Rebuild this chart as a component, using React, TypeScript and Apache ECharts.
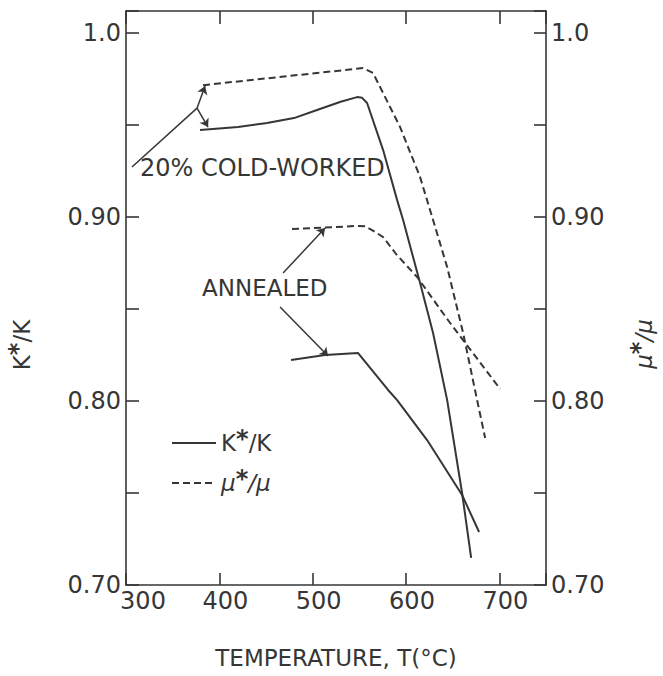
import React, { useEffect, useRef } from "react";
import * as echarts from "echarts";

// Temperature (°C) and ratio readings
const coldMuT = [382.5, 543.3, 554.0, 564.7, 593.7, 615.1, 629.0, 644.1, 661.2, 676.2, 684.8];
const coldMuV = [0.9717, 0.9804, 0.981, 0.9783, 0.9489, 0.9217, 0.8984, 0.8728, 0.837, 0.8005, 0.7799];

const coldKT = [379.3, 420, 451.1, 480, 504.7, 530, 547.6, 553, 558.3, 575.5, 590.5, 596.9, 615.1, 629.0, 644.1, 660.1, 669.8];
const coldKV = [0.9473, 0.949, 0.9511, 0.9538, 0.9582, 0.9627, 0.9652, 0.9648, 0.962, 0.9364, 0.9092, 0.8984, 0.8641, 0.837, 0.8005, 0.75, 0.7147];

const annMuT = [477.9, 521.9, 548, 556, 565, 575.5, 590, 611.9, 647.3, 700.9];
const annMuV = [0.8935, 0.8945, 0.8952, 0.895, 0.8925, 0.8891, 0.8795, 0.8674, 0.8424, 0.8065];

const annKT = [476.8, 513.3, 548.7, 580.8, 590.5, 622.6, 660.1, 678.3];
const annKV = [0.8223, 0.825, 0.8261, 0.806, 0.8005, 0.7788, 0.7489, 0.7288];

// annotation leader lines (data coordinates)
const leaderLines = [[[306.4, 0.9272], [376.1, 0.9592]]];
const arrowLines = [
  [[376.1, 0.9592], [384.7, 0.9712]],
  [[376.1, 0.9592], [387.9, 0.9489]],
  [[468.3, 0.8696], [513.3, 0.894]],
  [[465.1, 0.8511], [516.5, 0.8245]],
];

const xTickValues = [300, 400, 500, 600, 700];
const yTickLabels = ["0.70", "0.80", "0.90", "1.0"];

const zip = (a: number[], b: number[]) => a.map((v, i) => [v, b[i]]);

const INK = "#363636";
const FONT = "DejaVu Sans";

export default function App() {
  const ref = useRef<HTMLDivElement>(null);
  useEffect(() => {
    if (!ref.current) return;
    const chart = echarts.init(ref.current, undefined, { renderer: "svg" });

    const yFmt = (v: number) => {
      const r = Math.round(v * 100);
      if (Math.abs(v * 100 - r) > 0.01 || r % 10 !== 0) return "";
      const s = r === 100 ? "1.0" : (r / 100).toFixed(2);
      return yTickLabels.includes(s) ? s : "";
    };
    const xFmt = (v: number) => {
      const r = Math.round(v);
      if (!xTickValues.includes(r)) return "";
      return r === 300 ? "{f|300}" : "{n|" + r + "}";
    };

    const axisCommon = {
      axisLine: { show: true, onZero: false, lineStyle: { color: INK, width: 1.6 } },
      splitLine: { show: false },
    };

    const textRich = {
      a: { fontFamily: FONT, fontSize: 23, color: INK },
      m: { fontFamily: FONT, fontSize: 23, color: INK, fontStyle: "italic" },
      s: { fontFamily: FONT, fontSize: 24, color: INK, fontWeight: "bold", padding: [0, 0, 8, 0] },
    };

    const lineSeries = (name: string, yIdx: number, t: number[], v: number[], dashed: boolean) => ({
      name,
      type: "line",
      xAxisIndex: 0,
      yAxisIndex: yIdx,
      data: zip(t, v),
      symbol: "none",
      showSymbol: false,
      smooth: false,
      lineStyle: { color: INK, width: 2, type: dashed ? [7, 4] : "solid" },
      itemStyle: { color: INK },
    });

    chart.setOption({
      animation: false,
      backgroundColor: "#ffffff",
      grid: { left: 126, right: 117, top: 11, bottom: 91, containLabel: false },
      xAxis: [
        {
          type: "value",
          min: 300,
          max: 750,
          interval: 100,
          position: "bottom",
          ...axisCommon,
          axisTick: { show: true, inside: true, length: 12, lineStyle: { color: INK, width: 1.6 } },
          axisLabel: {
            show: true,
            margin: 4,
            formatter: xFmt,
            rich: {
              n: { fontFamily: FONT, fontSize: 24, color: INK, padding: [0, 0, 0, 12] },
              f: { fontFamily: FONT, fontSize: 24, color: INK, padding: [0, 0, 0, 34] },
            },
          },
        },
        {
          type: "value",
          min: 300,
          max: 750,
          interval: 100,
          position: "top",
          ...axisCommon,
          axisTick: { show: true, inside: true, length: 13, lineStyle: { color: INK, width: 1.6 } },
          axisLabel: { show: false },
        },
      ],
      yAxis: [
        {
          type: "value",
          min: 0.7,
          max: 1.012,
          interval: 0.05,
          position: "left",
          ...axisCommon,
          axisTick: { show: true, inside: true, length: 13, lineStyle: { color: INK, width: 1.6 } },
          axisLabel: { show: true, margin: 5, formatter: yFmt, fontFamily: FONT, fontSize: 24, color: INK },
        },
        {
          type: "value",
          min: 0.7,
          max: 1.012,
          interval: 0.05,
          position: "right",
          ...axisCommon,
          axisTick: { show: true, inside: true, length: 12, lineStyle: { color: INK, width: 1.6 } },
          axisLabel: { show: true, margin: 5, formatter: yFmt, fontFamily: FONT, fontSize: 24, color: INK },
        },
      ],
      legend: {
        show: true,
        data: ["K*/K", "μ*/μ"],
        orient: "vertical",
        left: 166,
        top: 422,
        itemWidth: 44,
        itemHeight: 14,
        itemGap: 11,
        selectedMode: false,
        itemStyle: { opacity: 0 },
        formatter: (name: string) => (name === "K*/K" ? "{a|K}{s|*}{a|/K}" : "{m|μ}{s|*}{m|/μ}"),
        textStyle: { color: INK, fontFamily: FONT, fontSize: 22, lineHeight: 26, rich: textRich },
      },
      series: [
        lineSeries("K*/K", 0, coldKT, coldKV, false),
        lineSeries("K*/K", 0, annKT, annKV, false),
        lineSeries("μ*/μ", 1, coldMuT, coldMuV, true),
        lineSeries("μ*/μ", 1, annMuT, annMuV, true),
        {
          name: "leaders",
          type: "lines",
          coordinateSystem: "cartesian2d",
          xAxisIndex: 0,
          yAxisIndex: 0,
          symbol: ["none", "none"],
          lineStyle: { color: INK, width: 1.5, opacity: 1 },
          data: leaderLines.map((c) => ({ coords: c })),
        },
        {
          name: "arrows",
          type: "lines",
          coordinateSystem: "cartesian2d",
          xAxisIndex: 0,
          yAxisIndex: 0,
          symbol: ["none", "arrow"],
          symbolSize: 8,
          lineStyle: { color: INK, width: 1.5, opacity: 1 },
          data: arrowLines.map((c) => ({ coords: c })),
        },
      ],
      graphic: [
        {
          type: "text",
          x: 140,
          y: 168,
          style: { text: "20% COLD-WORKED", fontFamily: FONT, fontSize: 24, fill: INK, verticalAlign: "middle", align: "left" },
        },
        {
          type: "text",
          x: 202,
          y: 288,
          style: { text: "ANNEALED", fontFamily: FONT, fontSize: 23, fill: INK, verticalAlign: "middle", align: "left" },
        },
        {
          type: "text",
          x: 336,
          y: 658,
          style: { text: "TEMPERATURE, T(°C)", fontFamily: FONT, fontSize: 23, fill: INK, verticalAlign: "middle", align: "center" },
        },
        {
          type: "text",
          x: 22,
          y: 345,
          rotation: Math.PI / 2,
          style: { text: "{a|K}{s|*}{a|/K}", rich: textRich, fill: INK, align: "center", verticalAlign: "middle" },
        },
        {
          type: "text",
          x: 644,
          y: 344,
          rotation: Math.PI / 2,
          style: { text: "{m|μ}{s|*}{m|/μ}", rich: textRich, fill: INK, align: "center", verticalAlign: "middle" },
        },
      ],
    });
    return () => chart.dispose();
  }, []);
  return (
    <div
      ref={ref}
      style={{ position: "absolute", left: 0, top: 0, width: 663, height: 676, background: "#fff" }}
    />
  );
}
